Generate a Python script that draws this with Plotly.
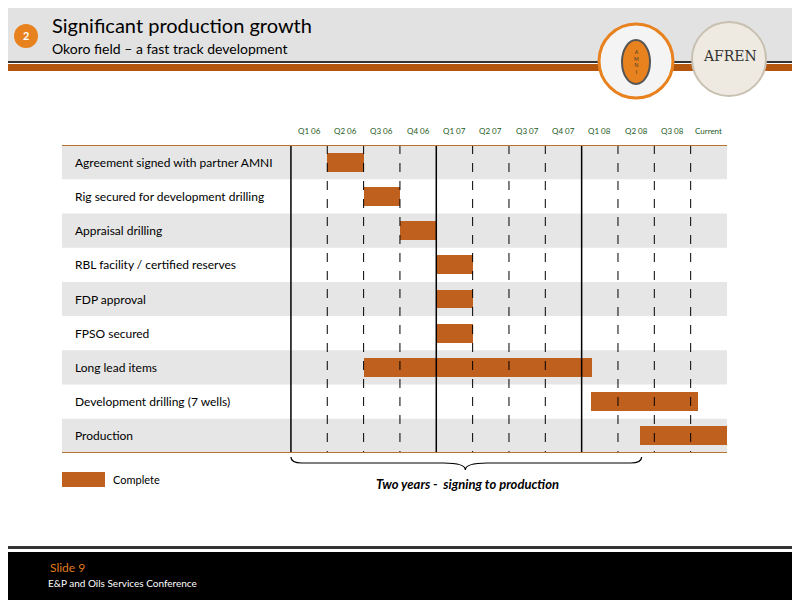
import plotly.graph_objects as go

quarters = ["Q1 06", "Q2 06", "Q3 06", "Q4 06", "Q1 07", "Q2 07", "Q3 07", "Q4 07",
            "Q1 08", "Q2 08", "Q3 08", "Current"]
tasks = ["Agreement signed with partner AMNI", "Rig secured for development drilling",
         "Appraisal drilling", "RBL facility / certified reserves", "FDP approval",
         "FPSO secured", "Long lead items", "Development drilling (7 wells)", "Production"]
start = [1.0, 2.0, 3.0, 4.0, 4.0, 4.0, 2.0, 8.25, 9.6]
end = [2.0, 3.0, 4.0, 5.0, 5.0, 5.0, 8.28, 11.2, 12.0]

ORANGE = "#c0601f"
LINE = "#b8732e"
FONT = "Lato"

# plot area: page px 62..727 horizontally, 145..453 vertically
def py(p):
    return (453 - p) / 308.0

def px(p):
    return (p - 62) / 665.0

fig = go.Figure()
fig.add_trace(go.Bar(
    y=[i + 0.5 for i in range(len(tasks))],
    x=[e - s for s, e in zip(start, end)],
    base=start, orientation="h", width=0.55,
    marker=dict(color=ORANGE, line=dict(width=0)),
    showlegend=False, hoverinfo="skip"))

shapes = []
# row shading
for i in range(len(tasks)):
    if i % 2 == 0:
        shapes.append(dict(type="rect", xref="paper", yref="y", x0=0, x1=1, y0=i, y1=i + 1,
                           fillcolor="#e6e6e6", line_width=0, layer="below"))
# column lines
for q in range(12):
    solid = q % 4 == 0
    shapes.append(dict(type="line", xref="x", yref="y", x0=q, x1=q, y0=0, y1=9,
                       line=dict(color="black", width=1.5 if solid else 1,
                                 dash="solid" if solid else "dash"), layer="above"))
# top/bottom rules
for y in (0, 9):
    shapes.append(dict(type="line", xref="paper", yref="y", x0=0, x1=1, y0=y, y1=y,
                       line=dict(color=LINE, width=2)))
# header
shapes += [
    dict(type="rect", xref="paper", yref="paper", x0=px(-10), x1=px(810), y0=py(-10), y1=py(61),
         fillcolor="#e2e2e2", line_width=0, layer="below"),
    dict(type="rect", xref="paper", yref="paper", x0=px(-10), x1=px(810), y0=py(61), y1=py(63),
         fillcolor="#333333", line_width=0),
    dict(type="rect", xref="paper", yref="paper", x0=px(-10), x1=px(810), y0=py(64), y1=py(71),
         fillcolor="#b5560f", line_width=0),
    dict(type="circle", xref="paper", yref="paper", x0=px(14), x1=px(38), y0=py(24), y1=py(48),
         fillcolor="#e8821e", line_width=0),
    dict(type="circle", xref="paper", yref="paper", x0=px(599), x1=px(673), y0=py(24), y1=py(98),
         fillcolor="#f4f4f4", line=dict(color="#e8821e", width=3)),
    dict(type="circle", xref="paper", yref="paper", x0=px(622), x1=px(650), y0=py(40), y1=py(84),
         fillcolor="#e8821e", line=dict(color="#555555", width=2)),
    dict(type="circle", xref="paper", yref="paper", x0=px(692), x1=px(766), y0=py(22), y1=py(96),
         fillcolor="#eeeae2", line=dict(color="#c8c0b0", width=2)),
    # footer
    dict(type="rect", xref="paper", yref="paper", x0=px(-10), x1=px(810), y0=py(546), y1=py(549),
         fillcolor="#333333", line_width=0),
    dict(type="rect", xref="paper", yref="paper", x0=px(-10), x1=px(810), y0=py(552), y1=py(610),
         fillcolor="black", line_width=0),
    # legend swatch
    dict(type="rect", xref="paper", yref="paper", x0=px(62), x1=px(105), y0=py(472), y1=py(487),
         fillcolor=ORANGE, line_width=0),
]
# brace
yb0, ym, yt = py(457), py(463), py(470)
shapes.append(dict(type="path", xref="x", yref="paper",
                   path=(f"M 0,{yb0} Q 0,{ym} 0.3,{ym} L 4.2,{ym} Q 4.8,{ym} 4.8,{yt} "
                         f"Q 4.8,{ym} 5.4,{ym} L 9.35,{ym} Q 9.65,{ym} 9.65,{yb0}"),
                   line=dict(color="black", width=1.2)))

ann = []
for i, t in enumerate(tasks):
    ann.append(dict(x=px(73), y=i + 0.5, xref="paper", yref="y", text=t, showarrow=False,
                    xanchor="left", yanchor="middle", font=dict(family=FONT, size=12, color="black")))
for q, lab in enumerate(quarters):
    ann.append(dict(x=q + 0.5, y=py(131), xref="x", yref="paper", text=lab, showarrow=False,
                    yanchor="middle", font=dict(family=FONT, size=8, color="#1e5a1e")))


def note(x, y, text, size, color, family=FONT, xanchor="left"):
    ann.append(dict(x=px(x), y=py(y), xref="paper", yref="paper", text=text, showarrow=False,
                    xanchor=xanchor, yanchor="middle", font=dict(family=family, size=size, color=color)))


note(26, 36, "<b>2</b>", 11, "white", xanchor="center")
note(50, 25, "Significant production growth", 20, "black")
note(50, 48, "Okoro field – a fast track development", 14, "black")
note(636, 62, "A<br>M<br>N<br>I", 5, "#333333", xanchor="center")
note(730, 56, "AFREN", 14, "#333333", family="DejaVu Serif", xanchor="center")
note(111, 479, "Complete", 11, "black")
note(48, 567, "Slide 9", 12, "#e07b1f")
note(46, 583, "E&P and Oils Services Conference", 10, "white")
ann.append(dict(x=4.85, y=py(484), xref="x", yref="paper",
                text="<b><i>Two years -  signing to production</i></b>", showarrow=False,
                yanchor="middle", font=dict(family=FONT, size=13, color="black")))

fig.update_layout(
    width=800, height=600, margin=dict(l=54, r=81, t=137, b=155),
    paper_bgcolor="white", plot_bgcolor="rgba(0,0,0,0)",
    xaxis=dict(range=[-6.3, 12], visible=False, fixedrange=True),
    yaxis=dict(range=[9, 0], visible=False, fixedrange=True),
    shapes=shapes, annotations=ann, bargap=0,
)
fig.write_html("out.html")
